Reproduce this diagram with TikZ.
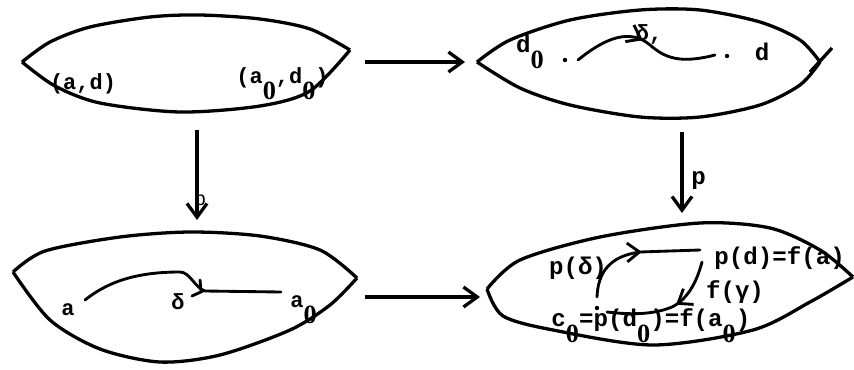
\documentclass[tikz,border=0pt]{standalone}
\usepackage{fontspec}
\setmonofont{Liberation Mono}
\newfontfamily\zerofont{Liberation Serif}
\usepackage{tikz}
\usetikzlibrary{arrows.meta,decorations.markings}

\tikzset{
  lens/.style={line width=1.5pt, line join=round},
  mapto/.style={line width=1.5pt, -{Straight Barb[length=2.2mm,width=3.2mm]}},
  pathline/.style={line width=1.3pt, line cap=round},
  midtip/.style={postaction={decorate},
    decoration={markings, mark=at position #1 with {\arrow{Straight Barb[length=2mm,width=3mm]}}}},
  lbl/.style={font=\ttfamily\bfseries, inner sep=0pt},
  biglbl/.style={font=\ttfamily\bfseries\fontsize{11}{13}\selectfont, inner sep=0pt}
}
\newcommand{\lowz}{\raisebox{-0.26cm}{\zerofont\bfseries\fontsize{12}{14}\selectfont 0}}

\begin{document}
\begin{tikzpicture}[x=0.016cm, y=-0.016cm]
    \useasboundingbox (0,0) rectangle (854,369);
    % Lenses
    \draw[lens] plot[smooth] coordinates {(22,62) (50,42) (90,27) (150,17) (200,15) (260,19) (310,29) (350,50)};
    \draw[lens] plot[smooth] coordinates {(22,62) (55,86) (100,103) (180,112) (260,106) (310,91) (350,50)};
    \draw[lens] plot[smooth] coordinates {(477,62) (510,40) (570,20) (640,10) (700,10) (760,22) (800,40) (820,62)};
    \draw[lens] plot[smooth] coordinates {(477,62) (520,88) (570,105) (640,117) (700,117) (760,105) (800,85) (820,62)};
    \draw[lens] (810,72) -- (832,48); % end tick
    \draw[lens] plot[smooth] coordinates {(13,272) (45,251) (120,237) (190,232) (260,236) (320,250) (357,278)};
    \draw[lens] plot[smooth] coordinates {(13,272) (50,320) (100,349) (160,362) (220,355) (290,330) (330,305) (357,278)};
    \draw[lens] plot[smooth] coordinates {(487,289) (520,260) (600,237) (700,223) (770,228) (820,250) (853,277)};
    \draw[lens] plot[smooth] coordinates {(487,289) (503,316) (553,330) (653,345) (753,330) (810,302) (853,277)};

    % Maps between the pictures
    \coordinate (tlR) at (365,62);
    \coordinate (trL) at (465,62);
    \coordinate (blR) at (365,297);
    \coordinate (brL) at (480,297);
    \coordinate (lvTop) at (197,130);
    \coordinate (lvBot) at (197,220);
    \coordinate (rvTop) at (682,132);
    \coordinate (rvBot) at (682,213);
    \draw[mapto] (tlR) -- (trL);
    \draw[mapto] (blR) -- (brL);
    \draw[mapto] (lvTop) -- (lvBot);
    \draw[mapto] (rvTop) -- (rvBot);
    \node[biglbl, anchor=west] (pmap) at (691,180) {p};
    \node[lbl, anchor=west, font=\ttfamily\small] (bmark) at (194,198) {b};

    % Top left
    \node[lbl] (ad) at (83,84) {(a,d)};
    \node[lbl, anchor=west] (ad0) at (236,84) {(a\lowz,d\lowz)};

    % Top right
    \node[biglbl] (dzero) at (530,52) {d\lowz};
    \node[biglbl] (dend) at (762,52) {d};
    \node[lbl] (deltatop) at (649,34) {δ,};
    \fill (565,60) circle (2.2);
    \fill (727,56) circle (2.2);
    \draw[pathline, midtip=0.48] (578,60) .. controls (605,38) and (630,28) .. (650,45)
      .. controls (665,58) and (680,64) .. (715,55);

    % Bottom left
    \node[lbl] (abl) at (68,310) {a};
    \node[lbl] (deltabl) at (178,302) {δ};
    \node[lbl, anchor=west] (a0bl) at (290,310) {a\lowz};
    \draw[pathline] (85,300) .. controls (110,280) and (140,272) .. (180,272)
      .. controls (190,272) and (195,288) .. (205,291) -- (281,292);
    \draw[pathline] (200,280) -- (201,291);
    \draw[pathline] (192,296) -- (203,291);

    % Bottom right
    \node[biglbl] (pdelta) at (578,268) {p(δ)};
    \node[biglbl, anchor=west] (pdfa) at (714,258) {p(d)=f(a)};
    \node[biglbl] (fgamma) at (735,292) {f(γ)};
    \node[biglbl, anchor=west] (cnull) at (551,326) {c\lowz=p(d\lowz)=f(a\lowz)};
    \fill (597,308) circle (2.2);
    \draw[pathline, midtip=0.55] (597,297) .. controls (598,272) and (610,256) .. (640,252) -- (700,250);
    \draw[pathline, midtip=0.42] (702,262) .. controls (696,285) and (686,300) .. (672,307)
      .. controls (650,316) and (625,314) .. (607,312);
\end{tikzpicture}
\end{document}
